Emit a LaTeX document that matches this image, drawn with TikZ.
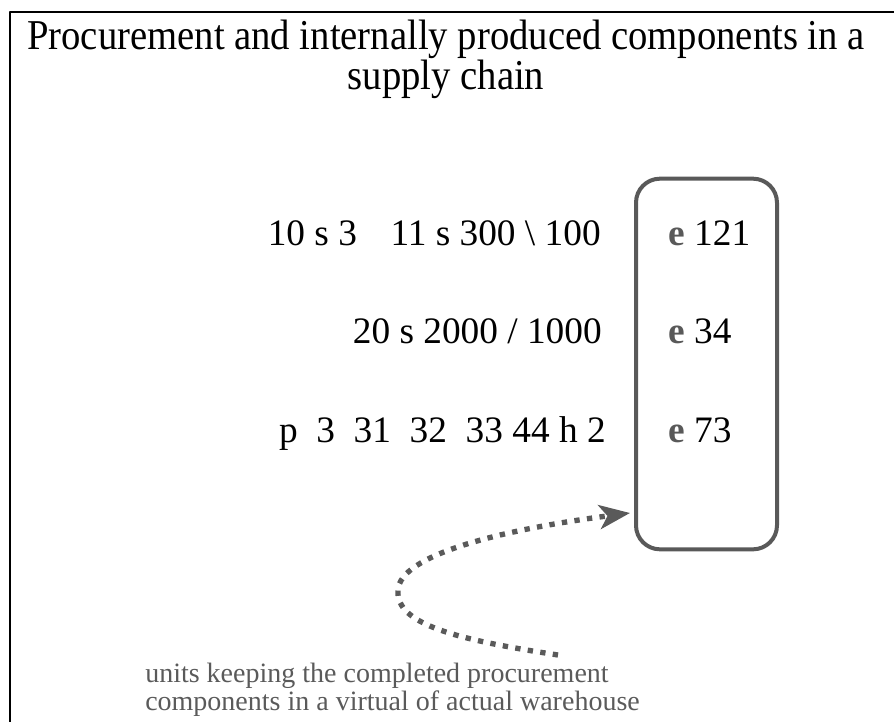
\documentclass[tikz,border=0pt]{standalone}
\usepackage{fontspec}
\setmainfont{Liberation Serif}
\usetikzlibrary{arrows.meta}
\definecolor{boxgray}{HTML}{595959}
\definecolor{notegray}{HTML}{5A5A5A}
\tikzset{>={Stealth[length=23pt,width=18pt,inset=6pt]}}
\tikzset{
  bigtext/.style={inner sep=0pt, font=\fontsize{28}{31}\selectfont},
  rowtext/.style={bigtext, anchor=base east},
  celltext/.style={bigtext, anchor=base west},
  notetext/.style={inner sep=0pt, anchor=base west, text=notegray, font=\fontsize{21}{21}\selectfont},
}
\newcommand{\ecode}{\textcolor{boxgray}{\textbf{e}}}

\begin{document}
\begin{tikzpicture}[x=0.75pt, y=-0.75pt, line join=round]
    \useasboundingbox (0,0) rectangle (894,722);
    % frame
    \draw[line width=2.2pt] (10,722) -- (10,12) -- (894,12);
    % title
    \node[bigtext, anchor=base, font=\fontsize{29}{31}\selectfont, yscale=1.1] (title) at (446,49) {Procurement and internally produced components in a};
    \node[bigtext, anchor=base, font=\fontsize{29}{31}\selectfont, yscale=1.1] (title2) at (446,89) {supply chain};
    % rows
    \node[rowtext] (row1) at (601,245) {10 s 3\hspace{0.9em}11 s 300 \textbackslash{} 100};
    \node[rowtext] (row2) at (602,343) {20 s 2000 / 1000};
    \node[rowtext] (row3) at (606,442) {p\ \ 3\ \ 31\ \ 32\ \ 33 44 h 2};
    % store box
    \node[draw=boxgray, line width=3pt, rounded corners=18pt,
          minimum width=105.75pt, minimum height=278pt, inner sep=0pt] (store) at (706.5,364) {};
    \node[celltext] (e1) at (668,245) {\ecode{} 121};
    \node[celltext] (e2) at (668,343) {\ecode{} 34};
    \node[celltext] (e3) at (668,442) {\ecode{} 73};
    % note
    \node[notetext] (note) at (145,682) {units keeping the completed procurement};
    \node[notetext] (note2) at (145,710) {components in a virtual of actual warehouse};
    \coordinate (tail) at (558,655);
    \coordinate (bend) at (398,590);
    \coordinate (head) at (630,513);
    \draw[notegray, line width=4pt, dash pattern=on 4pt off 5.5pt, ->]
        (tail) .. controls (460,640) and (395,625) .. (bend)
               .. controls (400,555) and (500,530) .. (head);
\end{tikzpicture}
\end{document}
